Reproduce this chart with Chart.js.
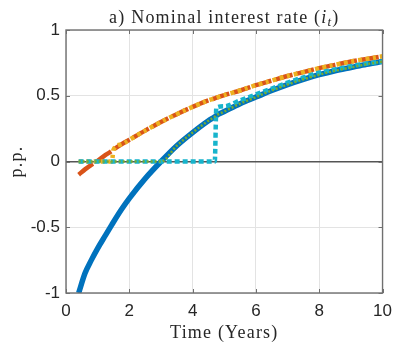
<!DOCTYPE html>
<html>
<head>
<meta charset="utf-8">
<script src="https://cdn.jsdelivr.net/npm/chart.js@4.4.1/dist/chart.umd.min.js"></script>
<style>html,body{margin:0;padding:0;background:#fff}</style>
</head>
<body>
<canvas id="chart" width="400" height="343"></canvas>
<script>
// values (p.p.)
const years = [0.4, 0.6, 0.8, 1, 1.25, 1.45, 1.5, 1.75, 2, 2.5, 3, 3.5, 4, 4.5, 4.7, 4.75, 5, 5.5, 6, 6.5, 7, 7.5, 8, 8.5, 9, 9.5, 10]
const blueLine = [-1.0, -0.85, -0.75, -0.66, -0.56, -0.48, -0.46, -0.365, -0.28, -0.13, 0.0, 0.12, 0.22, 0.31, 0.34, 0.35, 0.38, 0.44, 0.49, 0.54, 0.585, 0.625, 0.66, 0.69, 0.715, 0.74, 0.76]
const orangeLine = [-0.10, -0.06, -0.025, 0.005, 0.05, 0.08, 0.09, 0.13, 0.165, 0.235, 0.30, 0.36, 0.415, 0.465, 0.48, 0.485, 0.505, 0.54, 0.58, 0.615, 0.65, 0.68, 0.71, 0.735, 0.76, 0.78, 0.80]
const yellowLine = [0, 0, 0, 0, 0, 0, 0.09, 0.13, 0.165, 0.235, 0.30, 0.36, 0.415, 0.465, 0.48, 0.485, 0.505, 0.54, 0.58, 0.615, 0.65, 0.68, 0.71, 0.735, 0.76, 0.78, 0.80]
const greenLine = [0, 0, 0, 0, 0, 0, 0, 0, 0, 0, 0, 0.12, 0.22, 0.31, 0.34, 0.35, 0.38, 0.44, 0.49, 0.54, 0.585, 0.625, 0.66, 0.69, 0.715, 0.74, 0.76]
const cyanLine = [0, 0, 0, 0, 0, 0, 0, 0, 0, 0, 0, 0, 0, 0, 0, 0.41, 0.42, 0.465, 0.51, 0.555, 0.60, 0.64, 0.675, 0.70, 0.725, 0.745, 0.76]
const xTicks = [0, 2, 4, 6, 8, 10]
const yTicks = [-1, -0.5, 0, 0.5, 1]

const pts = arr => arr.map((v, i) => ({ x: years[i], y: v }))
const serif = "'Liberation Serif', 'DejaVu Serif', serif"
const sans = "'Liberation Sans', Arial, sans-serif"
const textCol = "#262626"

function line(data, color, width, dash, order) {
  return {
    data: pts(data),
    borderColor: color,
    borderWidth: width,
    borderDash: dash,
    borderCapStyle: "butt",
    pointRadius: 0,
    cubicInterpolationMode: "monotone",
    fill: false,
    order: order,
  }
}

// title, axis labels, box and inner ticks like the matlab figure
const decor = {
  id: "decor",
  afterDraw(chart) {
    const c = chart.ctx
    const a = chart.chartArea
    const xs = chart.scales.x, ys = chart.scales.y
    c.save()
    c.strokeStyle = "#707070"
    c.lineWidth = 1
    xTicks.forEach(t => {
      const px = Math.round(xs.getPixelForValue(t)) + 0.5
      c.beginPath(); c.moveTo(px, a.bottom); c.lineTo(px, a.bottom - 4); c.stroke()
      c.beginPath(); c.moveTo(px, a.top); c.lineTo(px, a.top + 4); c.stroke()
    })
    yTicks.forEach(t => {
      const py = Math.round(ys.getPixelForValue(t)) + 0.5
      c.beginPath(); c.moveTo(a.left, py); c.lineTo(a.left + 4, py); c.stroke()
      c.beginPath(); c.moveTo(a.right, py); c.lineTo(a.right - 4, py); c.stroke()
    })
    c.lineWidth = 1.4
    c.strokeRect(a.left, a.top, a.right - a.left, a.bottom - a.top)

    const cx = (a.left + a.right) / 2
    c.fillStyle = textCol
    c.textBaseline = "alphabetic"
    c.letterSpacing = "1.2px"
    // title with italic i_t
    const f1 = "18px " + serif, fi = "italic 18px " + serif, fs = "italic 13px " + serif
    const p1 = "a) Nominal interest rate (", p2 = "i", p3 = "t", p4 = ")"
    c.font = f1; const w1 = c.measureText(p1).width, w4 = c.measureText(p4).width
    c.font = fi; const w2 = c.measureText(p2).width
    c.font = fs; const w3 = c.measureText(p3).width
    let x = cx - (w1 + w2 + w3 + w4) / 2
    const by = 23
    c.textAlign = "left"
    c.font = f1; c.fillText(p1, x, by); x += w1
    c.font = fi; c.fillText(p2, x, by); x += w2
    c.font = fs; c.fillText(p3, x, by + 3); x += w3
    c.font = f1; c.fillText(p4, x, by)

    c.textAlign = "center"
    c.font = "18px " + serif
    c.fillText("Time (Years)", cx, 338)
    c.translate(22, (a.top + a.bottom) / 2)
    c.rotate(-Math.PI / 2)
    c.fillText("p.p.", 0, 0)
    c.restore()
  },
}

new Chart(document.getElementById("chart"), {
  type: "line",
  data: {
    datasets: [
      line(blueLine, "#0072BD", 5.5, [], 5),
      line(orangeLine, "#D95319", 4.5, [18, 4], 4),
      line(yellowLine, "#EDB120", 4.5, [4, 3.5, 4, 3.5, 3, 4], 3),
      line(greenLine, "#77AC30", 2.5, [2, 2], 1),
      line(cyanLine, "#17B4CC", 4.5, [5, 3], 2),
    ],
  },
  options: {
    responsive: false,
    animation: false,
    layout: { padding: { top: 30, right: 10, left: 0, bottom: 0 } },
    plugins: { legend: { display: false }, tooltip: { enabled: false } },
    scales: {
      x: {
        type: "linear",
        min: 0,
        max: 10,
        afterFit: s => { s.height = 50 },
        afterBuildTicks: s => { s.ticks = xTicks.map(v => ({ value: v })) },
        grid: { color: "#e3e3e3", lineWidth: 1, drawTicks: false },
        border: { display: false },
        ticks: { padding: 8, color: textCol, font: { family: sans, size: 17 }, maxRotation: 0 },
      },
      y: {
        min: -1,
        max: 1,
        afterFit: s => { s.width = 66 },
        afterBuildTicks: s => { s.ticks = yTicks.map(v => ({ value: v })) },
        grid: {
          color: ctx => (ctx.tick && ctx.tick.value === 0 ? "#555555" : "#e3e3e3"),
          lineWidth: ctx => (ctx.tick && ctx.tick.value === 0 ? 1.5 : 1),
          drawTicks: false,
        },
        border: { display: false },
        ticks: { padding: 6, color: textCol, font: { family: sans, size: 17 }, callback: v => String(v) },
      },
    },
  },
  plugins: [decor],
})
</script>
</body>
</html>
